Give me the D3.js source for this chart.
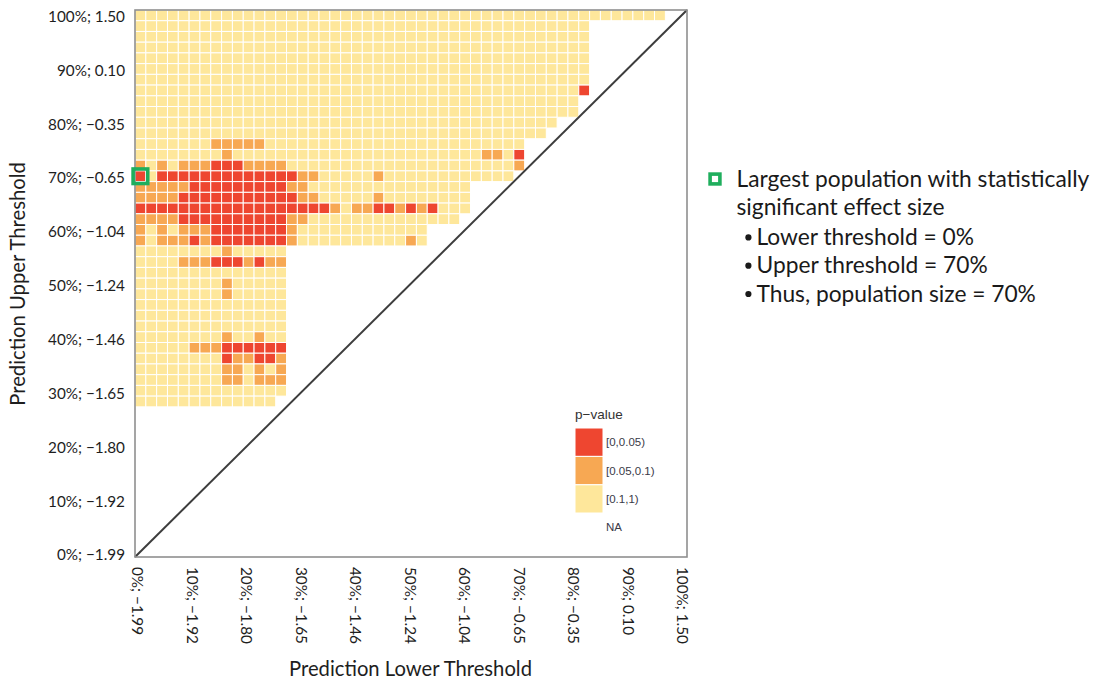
<!DOCTYPE html>
<html>
<head>
<meta charset="utf-8">
<script src="https://cdn.jsdelivr.net/npm/d3@7"></script>
<style>
  html, body { margin: 0; padding: 0; background: #ffffff; }
  svg { display: block; }
</style>
</head>
<body>
<svg id="chart" width="1100" height="682"></svg>
<script>
// ---- data -------------------------------------------------------------
// Axis ticks: population percentile ; prediction value at that percentile
const thresholdTicks = [0, 10, 20, 30, 40, 50, 60, 70, 80, 90, 100];
const thresholdLabels = [
  "0%; \u22121.99", "10%; \u22121.92", "20%; \u22121.80", "30%; \u22121.65",
  "40%; \u22121.46", "50%; \u22121.24", "60%; \u22121.04", "70%; \u22120.65",
  "80%; \u22120.35", "90%; 0.10", "100%; 1.50"
];

// Lower-threshold levels (columns) and upper-threshold levels (rows), in %
const lowerLevels = [0, 2, 4, 6, 8, 10, 12, 14, 16, 18, 20, 22, 24, 26, 28, 30, 32, 34,
  36, 38, 40, 42, 44, 46, 48, 50, 52, 54, 56, 58, 60, 62, 64, 66, 68, 70, 72, 74,
  76, 78, 80, 82, 84, 86, 88, 90, 92, 94, 96];
const upperLevels = [100, 98, 96, 94, 92, 90, 88, 86, 84, 82, 80, 78, 76, 74, 72, 70,
  68, 66, 64, 62, 60, 58, 56, 54, 52, 50, 48, 46, 44, 42, 40, 38, 36, 34, 32, 30, 28];

// p-value band per cell, one string per upper level, one character per lower level
// 0 = [0,0.05), 1 = [0.05,0.1), 2 = [0.1,1)
const pValueRows = [
  "2222222222222222222222222222222222222222222222222", // 100
  "222222222222222222222222222222222222222222",        // 98
  "222222222222222222222222222222222222222222",        // 96
  "222222222222222222222222222222222222222222",        // 94
  "222222222222222222222222222222222222222222",        // 92
  "222222222222222222222222222222222222222222",        // 90
  "222222222222222222222222222222222222222222",        // 88
  "222222222222222222222222222222222222222220",        // 86
  "22222222222222222222222222222222222222222",         // 84
  "22222222222222222222222222222222222222222",         // 82
  "222222222222222222222222222222222222222",           // 80
  "22222222222222222222222222222222222222",            // 78
  "222222211111222222222222222222222222",              // 76
  "222222221222222222222222222222221120",              // 74
  "121211100011112222222222222222222221",              // 72
  "02000000000000011222221222222222222",               // 70
  "1111100000000011222222222222222",                   // 68
  "1111000000000001122222122222222",                   // 66
  "0000000000000000001211001010222",                   // 64
  "111100000000001122222222222222",                    // 62
  "121211100000001222222222222",                       // 60
  "121110100000001222222222212",                       // 58
  "22222222122222",                                    // 56
  "22221110001011",                                    // 54
  "22222222222222",                                    // 52
  "22222222122222",                                    // 50
  "22222222122222",                                    // 48
  "22222222222222",                                    // 46
  "22222222222222",                                    // 44
  "22222222222222",                                    // 42
  "22222222122122",                                    // 40
  "22222111000000",                                    // 38
  "22222222011001",                                    // 36
  "22222222112121",                                    // 34
  "22222222112111",                                    // 32
  "22222222222222",                                    // 30
  "2222222222222"                                      // 28
];

const pBands = ["[0,0.05)", "[0.05,0.1)", "[0.1,1)", "NA"];
const pColors = ["#EE4630", "#F7A853", "#FEE79B", "#FFFFFF"];

// Highlighted cell: largest population with a significant effect
const highlight = { lower: 0, upper: 70 };

const noteHeading = ["Largest population with statistically", "significant effect size"];
const noteBullets = ["Lower threshold = 0%", "Upper threshold = 70%", "Thus, population size = 70%"];

// ---- layout ------------------------------------------------------------
const svg = d3.select("#chart");
const panel = { left: 135, right: 687, top: 10, bottom: 557 };
const step = 2;                       // width of one threshold level, in %
const labelFont = "Lato, 'Open Sans', sans-serif";
const legendFont = "'Liberation Sans', Arial, sans-serif";
const green = "#1FAE5D";

// tiles are centred on their level, so the panel spans one half-step past 0 and 100
const x = d3.scaleLinear().domain([-step / 2, 100 + step / 2]).range([panel.left, panel.right]);
const y = d3.scaleLinear().domain([-step / 2, 100 + step / 2]).range([panel.bottom, panel.top]);
// positions of the threshold labels along each axis
const xLab = d3.scaleLinear().domain([0, 100]).range([137, 681.7]);
const yLab = d3.scaleLinear().domain([0, 100]).range([555, 16.5]);

function fitSize(sel, target) {
  const w = sel.node().getComputedTextLength();
  const fs = parseFloat(sel.attr("font-size"));
  return fs * target / w;
}

// ---- tiles -------------------------------------------------------------
const cells = [];
pValueRows.forEach((row, r) => {
  row.split("").forEach((code, c) => {
    cells.push({ lower: lowerLevels[c], upper: upperLevels[r], band: +code });
  });
});

svg.append("g")
  .selectAll("rect")
  .data(cells)
  .join("rect")
  .attr("x", d => x(d.lower - step / 2))
  .attr("y", d => y(d.upper + step / 2))
  .attr("width", d => x(d.lower + step / 2) - x(d.lower - step / 2))
  .attr("height", d => y(d.upper - step / 2) - y(d.upper + step / 2))
  .attr("fill", d => pColors[d.band])
  .attr("stroke", "#ffffff")
  .attr("stroke-width", 1);

// identity line: upper threshold = lower threshold
svg.append("line")
  .attr("x1", x(-step / 2)).attr("y1", y(-step / 2))
  .attr("x2", x(100 + step / 2)).attr("y2", y(100 + step / 2))
  .attr("stroke", "#3d3d3d")
  .attr("stroke-width", 2);

// panel frame
svg.append("rect")
  .attr("x", panel.left).attr("y", panel.top)
  .attr("width", panel.right - panel.left)
  .attr("height", panel.bottom - panel.top)
  .attr("fill", "none")
  .attr("stroke", "#8f8f8f")
  .attr("stroke-width", 1.6);

// highlight box
const pad = 1.9;
svg.append("rect")
  .attr("x", x(highlight.lower - step / 2) - pad)
  .attr("y", y(highlight.upper + step / 2) - pad)
  .attr("width", x(highlight.lower + step / 2) - x(highlight.lower - step / 2) + 2 * pad)
  .attr("height", y(highlight.upper - step / 2) - y(highlight.upper + step / 2) + 2 * pad)
  .attr("fill", "none")
  .attr("stroke", green)
  .attr("stroke-width", 3.6);

// ---- axes --------------------------------------------------------------
const yAxis = svg.append("g")
  .attr("transform", "translate(125,0)")
  .call(d3.axisLeft(yLab).tickValues(thresholdTicks)
    .tickFormat((d, i) => thresholdLabels[i]).tickSize(0).tickPadding(0));
yAxis.select(".domain").remove();

const xAxis = svg.append("g")
  .attr("transform", "translate(0,567)")
  .call(d3.axisBottom(xLab).tickValues(thresholdTicks)
    .tickFormat((d, i) => thresholdLabels[i]).tickSize(0).tickPadding(0));
xAxis.select(".domain").remove();

svg.selectAll(".tick text")
  .attr("font-family", labelFont)
  .attr("font-size", 16)
  .attr("fill", "#1e1e1e");

// size tick labels so "100%; 1.50" spans 77px
const tickSize = fitSize(yAxis.selectAll(".tick text").filter((d, i) => i === 10), 77);
svg.selectAll(".tick text").attr("font-size", tickSize);
xAxis.selectAll(".tick text")
  .attr("x", 0).attr("y", 0).attr("dy", "0.34em")
  .attr("text-anchor", "start")
  .attr("transform", "rotate(90)");
svg.selectAll("g").filter(function () { return this.getAttribute("font-family") === "sans-serif"; })
  .attr("font-family", labelFont);

// axis titles
const xTitle = svg.append("text")
  .attr("x", 410.5).attr("y", 676)
  .attr("text-anchor", "middle")
  .attr("font-family", labelFont).attr("font-size", 20)
  .attr("fill", "#1e1e1e")
  .text("Prediction Lower Threshold");
const titleSize = fitSize(xTitle, 243);
xTitle.attr("font-size", titleSize);

svg.append("text")
  .attr("transform", "translate(25,284) rotate(-90)")
  .attr("text-anchor", "middle")
  .attr("font-family", labelFont).attr("font-size", titleSize)
  .attr("fill", "#1e1e1e")
  .text("Prediction Upper Threshold");

// ---- p-value legend ----------------------------------------------------
const legend = svg.append("g").attr("transform", "translate(575,428)");
const keyW = 28, keyH = 28.4;
legend.append("text")
  .attr("x", 0).attr("y", -9)
  .attr("font-family", legendFont).attr("font-size", 13.5)
  .attr("fill", "#333333")
  .text("p\u2212value");
const items = legend.selectAll("g.item")
  .data(pBands)
  .join("g")
  .attr("class", "item")
  .attr("transform", (d, i) => `translate(0,${i * keyH})`);
items.append("rect")
  .attr("width", keyW).attr("height", keyH)
  .attr("fill", (d, i) => pColors[i])
  .attr("stroke", "#ffffff").attr("stroke-width", 1);
items.append("text")
  .attr("x", keyW + 3).attr("y", keyH / 2)
  .attr("dy", "0.35em")
  .attr("font-family", legendFont).attr("font-size", 11.5)
  .attr("fill", "#3a3a48")
  .text(d => d);

// ---- note --------------------------------------------------------------
const note = svg.append("g");
note.append("rect")
  .attr("x", 710.1).attr("y", 174.1)
  .attr("width", 9.8).attr("height", 9.8)
  .attr("fill", "#ffffff")
  .attr("stroke", green).attr("stroke-width", 3.6);
const headLines = note.selectAll("text.head")
  .data(noteHeading)
  .join("text")
  .attr("class", "head")
  .attr("x", 736.5)
  .attr("y", (d, i) => 186.5 + i * 28.3)
  .attr("font-family", labelFont).attr("font-size", 22)
  .attr("fill", "#1a1a1a")
  .text(d => d);
const noteSize = fitSize(headLines.filter((d, i) => i === 0), 353);
headLines.attr("font-size", noteSize);

const bullets = note.selectAll("g.bullet")
  .data(noteBullets)
  .join("g")
  .attr("class", "bullet")
  .attr("transform", (d, i) => `translate(0,${245 + i * 28.3})`);
bullets.append("circle")
  .attr("cx", 748.4).attr("cy", -7.6)
  .attr("r", 3.1)
  .attr("fill", "#1a1a1a");
bullets.append("text")
  .attr("x", 756.5).attr("y", 0)
  .attr("font-family", labelFont).attr("font-size", noteSize)
  .attr("fill", "#1a1a1a")
  .text(d => d);
</script>
</body>
</html>
